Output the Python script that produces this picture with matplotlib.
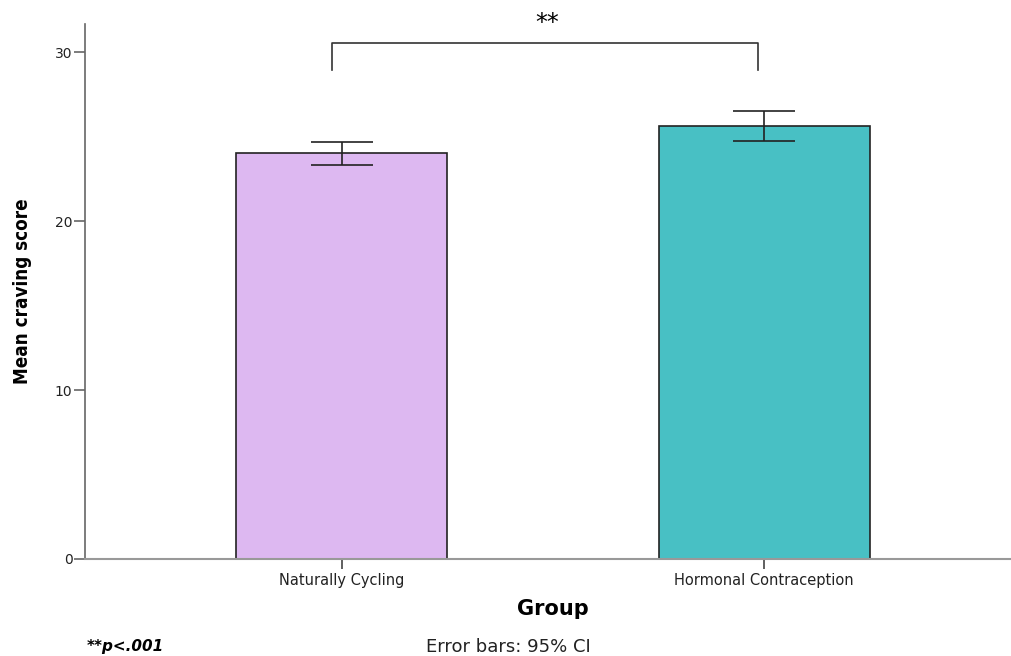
import numpy as np
import matplotlib.pyplot as plt

# values
groups = ['Naturally Cycling', 'Hormonal Contraception']
means = [24.0, 25.62]
ci_low = [23.31, 24.73]
ci_high = [24.67, 26.51]
colors = ['#DDB8F1', '#48C0C4']

plt.rcParams['font.family'] = ['DejaVu Sans']

fig = plt.figure(figsize=(10.12, 6.56), dpi=100)
ax = fig.add_axes([85 / 1012, 1 - 559 / 656, (1012 - 85) / 1012, (559 - 24) / 656])

x = np.arange(len(groups))
means = np.array(means)
yerr = np.array([means - np.array(ci_low), np.array(ci_high) - means])

ax.bar(x, means, width=0.5, color=colors, edgecolor='#222222', linewidth=1.2, zorder=2)
ax.errorbar(x, means, yerr=yerr, fmt='none', ecolor='#222222', elinewidth=1.2,
            capsize=22.5, capthick=1.2, zorder=3)

ax.set_xlim(-0.608, 1.587)
ax.set_ylim(0, 31.66)
ax.set_yticks([0, 10, 20, 30])
ax.set_xticks(x)
ax.set_xticklabels(groups)

for s in ['top', 'right']:
    ax.spines[s].set_visible(False)
ax.spines['left'].set_color('#666666')
ax.spines['bottom'].set_color('#999999')
ax.spines['left'].set_linewidth(1.2)
ax.spines['bottom'].set_linewidth(1.5)
ax.tick_params(axis='y', length=8, width=1.2, color='#666666', labelsize=10, labelcolor='#222222', pad=1)
ax.tick_params(axis='x', length=7, width=1.2, color='#444444', labelsize=10.5, labelcolor='#222222', pad=3)

ax.set_ylabel('Mean craving score', fontsize=13.5, fontweight='bold', fontstretch='condensed')
ax.yaxis.set_label_coords(-0.057, 0.5)
ax.set_xlabel('Group', fontsize=15, fontweight='bold', labelpad=8)
ax.xaxis.set_label_coords(0.505, -0.075)

# significance bracket
bx0, bx1 = -0.0225, 0.985
ax.plot([bx0, bx0, bx1, bx1], [28.93, 30.53, 30.53, 28.93], color='#333333', lw=1.2, clip_on=False)
ax.text((bx0 + bx1) / 2 + 0.005, 31.3, '**', ha='center', va='baseline', fontsize=17,
        clip_on=False)

fig.text(87 / 1012, 1 - 646 / 656, '**p<.001', fontsize=11, fontweight='bold', style='italic',
         fontstretch='normal', family='DejaVu Sans', ha='left', va='center')
fig.text(508 / 1012, 1 - 647 / 656, 'Error bars: 95% CI', fontsize=13, color='#222222',
         ha='center', va='center')

fig.savefig('out.png', dpi=100)
